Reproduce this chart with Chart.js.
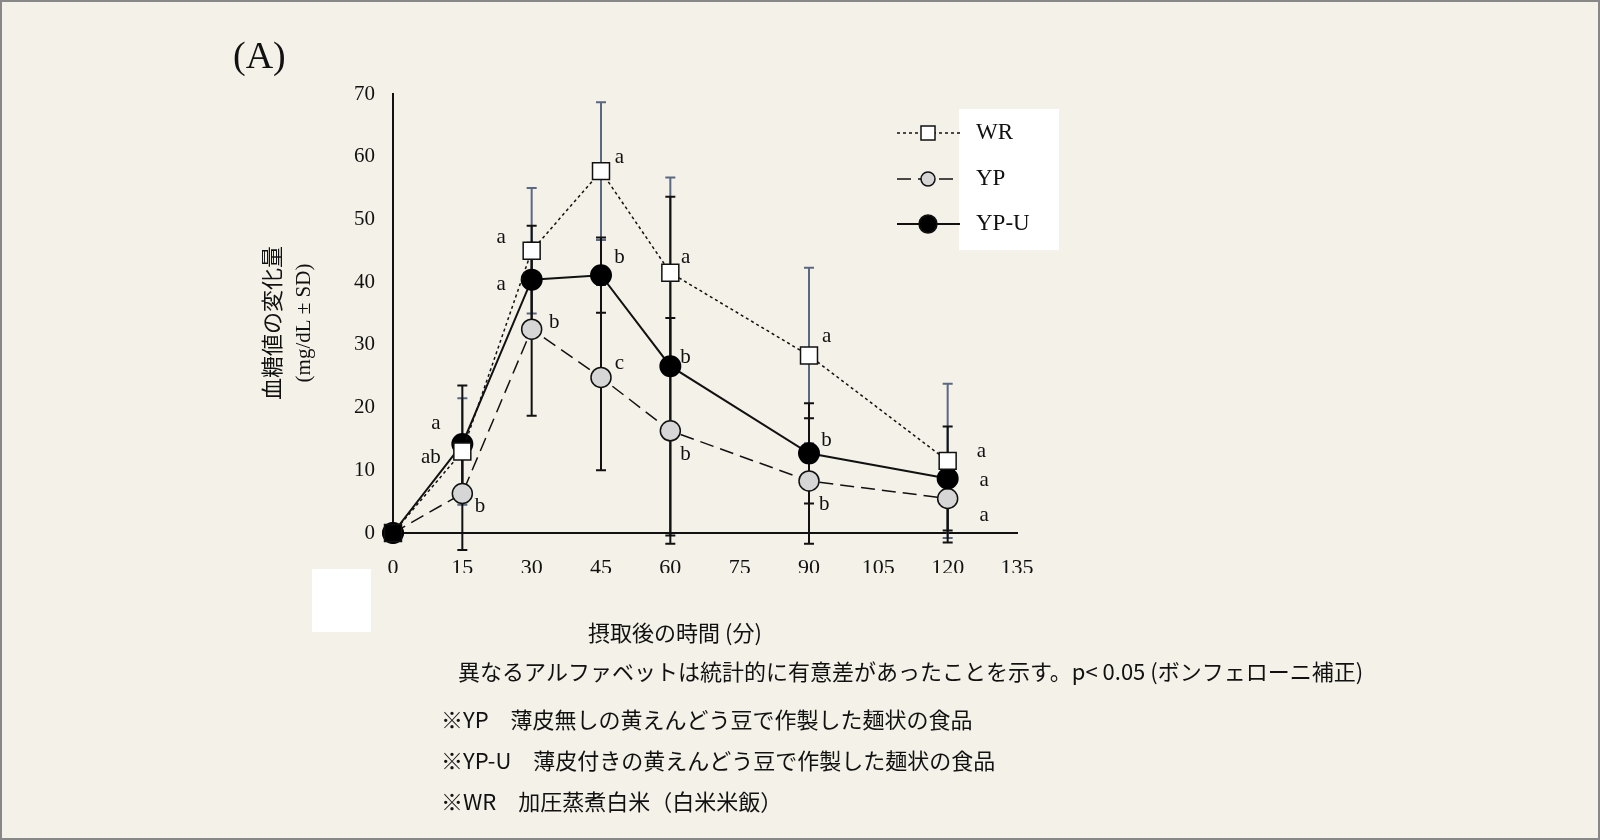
<!DOCTYPE html>
<html><head><meta charset="utf-8">
<script src="https://cdn.jsdelivr.net/npm/chart.js@4"></script>
<style>html,body{margin:0;padding:0;background:#f4f1e8;}#wrap{position:relative;width:1600px;height:840px;box-sizing:border-box;border:2px solid #888;}canvas{position:absolute;left:0;top:0;}</style>
</head><body><div id="wrap"><canvas id="c" width="1600" height="840"></canvas></div>
<script>
const times = [0, 15, 30, 45, 60, 90, 120];
const xTicks = [0, 15, 30, 45, 60, 75, 90, 105, 120, 135];
const wrMean = [0, 13, 45, 57.7, 41.5, 28.3, 11.5];
const wrSD = [0, 8.5, 10, 11, 15.2, 14, 12.3];
const ypMean = [0, 6.3, 32.5, 24.8, 16.3, 8.3, 5.5];
const ypSD = [0, 9, 13.8, 14.8, 18, 10, 7];
const ypuMean = [0, 14.2, 40.4, 41.1, 26.6, 12.7, 8.7];
const ypuSD = [0, 9.3, 8.6, 6, 27, 8, 8.3];
const letters = [
 {x:23.4,y:47.2,t:'a'},{x:49,y:59.9,t:'a'},{x:63.3,y:44,t:'a'},{x:93.8,y:31.3,t:'a'},{x:127.3,y:13,t:'a'},
 {x:9.3,y:17.4,t:'a'},{x:23.4,y:39.7,t:'a'},{x:49,y:44,t:'b'},{x:63.3,y:28,t:'b'},{x:93.8,y:14.7,t:'b'},{x:127.9,y:8.3,t:'a'},
 {x:8.2,y:12,t:'ab'},{x:18.8,y:4.2,t:'b'},{x:34.9,y:33.5,t:'b'},{x:49,y:27,t:'c'},{x:63.3,y:12.5,t:'b'},{x:93.3,y:4.6,t:'b'},{x:127.9,y:2.8,t:'a'}
];
const legendNames = ['WR','YP','YP-U'];
const serif = '"Liberation Serif","DejaVu Serif",serif';
const jp = '"Noto Sans CJK JP",sans-serif';
function pts(m){return times.map((t,i)=>({x:t,y:m[i]}));}
const errs = [[wrMean,wrSD,'#5a6880'],[ypuMean,ypuSD,'#111'],[ypMean,ypSD,'#111']];
const extras = {
 id:'extras',
 beforeDatasetsDraw(ch){
  const c=ch.ctx,xs=ch.scales.x,ys=ch.scales.y;
  c.save();c.lineWidth=2;
  errs.forEach(([m,s,col])=>{c.strokeStyle=col;
   times.forEach((t,i)=>{if(!s[i])return;const px=xs.getPixelForValue(t),a=ys.getPixelForValue(m[i]+s[i]),b=ys.getPixelForValue(m[i]-s[i]);
    c.beginPath();c.moveTo(px,a);c.lineTo(px,b);c.moveTo(px-5,a);c.lineTo(px+5,a);c.moveTo(px-5,b);c.lineTo(px+5,b);c.stroke();});});
  c.restore();
 },
 afterDraw(ch){
  const c=ch.ctx,xs=ch.scales.x,ys=ch.scales.y;
  c.save();c.fillStyle='#111';c.font='21px '+serif;c.textAlign='center';c.textBaseline='middle';
  letters.forEach(l=>c.fillText(l.t,xs.getPixelForValue(l.x),ys.getPixelForValue(l.y)));
  c.fillStyle='#fff';c.fillRect(957,107,100,141);
  const ly=[131,177,222],ds=ch.data.datasets;
  ly.forEach((y,i)=>{const d=ds[i];c.strokeStyle='#111';c.lineWidth=d.borderWidth;c.setLineDash(d.borderDash||[]);
   c.beginPath();c.moveTo(895,y);c.lineTo(958,y);c.stroke();c.setLineDash([]);
   c.fillStyle=i==0?'#fff':d.pointBackgroundColor;c.lineWidth=1.5;c.beginPath();
   if(i==0){c.fillRect(919,y-7,14,14);c.strokeRect(919,y-7,14,14);}else{c.arc(926,y,i==1?7:9,0,Math.PI*2);c.fill();c.stroke();}
   c.fillStyle='#111';c.font='23px '+serif;c.textAlign='left';c.fillText(legendNames[i],974,y);});
  c.fillStyle='#fff';c.fillRect(310,567,59,63);
  c.fillStyle='#111';c.font='38px '+serif;c.textAlign='left';c.fillText('(A)',231,56);
  c.font='22px '+jp;c.textAlign='center';c.fillText('摂取後の時間 (分)',673,631);
  c.textAlign='left';
  c.fillText('異なるアルファベットは統計的に有意差があったことを示す。p< 0.05 (ボンフェローニ補正)',456,670);
  c.fillText('※YP　薄皮無しの黄えんどう豆で作製した麺状の食品',439,718);
  c.fillText('※YP-U　薄皮付きの黄えんどう豆で作製した麺状の食品',439,759);
  c.fillText('※WR　加圧蒸煮白米（白米米飯）',439,800);
  c.save();c.translate(270,321);c.rotate(-Math.PI/2);c.textAlign='center';c.fillText('血糖値の変化量',0,0);c.restore();
  c.save();c.translate(302,321);c.rotate(-Math.PI/2);c.textAlign='center';c.font='21px '+serif;c.fillText('(mg/dL ± SD)',0,0);c.restore();
  c.restore();
 }
};
new Chart(document.getElementById('c'),{
 type:'line',
 data:{datasets:[
  {label:'WR',data:pts(wrMean),borderColor:'#111',borderWidth:1.5,borderDash:[3,3],pointStyle:'rect',pointRadius:12,pointBackgroundColor:['#000','#fff','#fff','#fff','#fff','#fff','#fff'],pointBorderColor:'#111',pointBorderWidth:1.5,order:1,clip:false},
  {label:'YP',data:pts(ypMean),borderColor:'#111',borderWidth:1.5,borderDash:[14,7],pointStyle:'circle',pointRadius:10,pointBackgroundColor:'#d6d6d6',pointBorderColor:'#111',pointBorderWidth:1.5,order:3,clip:false},
  {label:'YP-U',data:pts(ypuMean),borderColor:'#111',borderWidth:2,pointStyle:'circle',pointRadius:10,pointBackgroundColor:'#000',pointBorderColor:'#000',order:2,clip:false}
 ]},
 options:{responsive:false,animation:false,
  layout:{padding:{left:331,right:585,top:92,bottom:269}},
  plugins:{legend:{display:false},tooltip:{enabled:false}},
  scales:{
   x:{type:'linear',min:0,max:135,afterBuildTicks(s){s.ticks=xTicks.map(v=>({value:v}));},
     afterFit(s){s.height=40;},
     grid:{display:false,drawTicks:true,tickLength:8,color:'#111'},border:{color:'#111',width:2},
     ticks:{color:'#111',font:{family:serif,size:22},maxRotation:0,padding:14}},
   y:{min:0,max:70,afterFit(s){s.width=60;},
     ticks:{stepSize:10,color:'#111',font:{family:serif,size:21},padding:10},
     grid:{display:false,drawTicks:true,tickLength:8,color:'#111'},border:{color:'#111',width:2}}
  }},
 plugins:[extras]
});
</script></body></html>
